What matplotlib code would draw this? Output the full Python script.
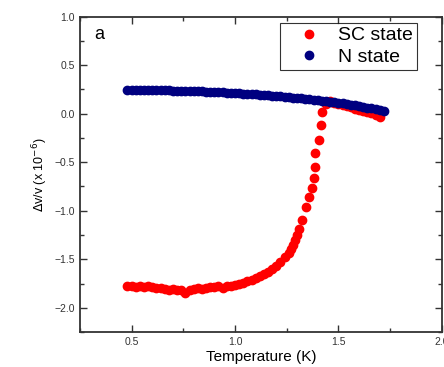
import numpy as np
import matplotlib
matplotlib.use('Agg')
import matplotlib.pyplot as plt
from matplotlib.ticker import MultipleLocator

plt.rcParams['font.family'] = ['Liberation Sans', 'DejaVu Sans']

# N state (normal state)
t_n = [0.48, 0.50, 0.52, 0.54, 0.56, 0.58, 0.60, 0.62, 0.64, 0.66, 0.68, 0.70,
       0.72, 0.74, 0.76, 0.78, 0.80, 0.82, 0.84, 0.86, 0.88, 0.90, 0.92, 0.94,
       0.96, 0.98, 1.00, 1.02, 1.04, 1.06, 1.08, 1.10, 1.12, 1.14, 1.16, 1.18,
       1.20, 1.22, 1.24, 1.26, 1.28, 1.30, 1.32, 1.34, 1.36, 1.38, 1.40, 1.42,
       1.44, 1.46, 1.48, 1.50, 1.52, 1.54, 1.56, 1.58, 1.60, 1.62, 1.64, 1.66,
       1.68, 1.70, 1.72]
dv_n = [0.245, 0.247, 0.246, 0.245, 0.246, 0.244, 0.243, 0.243, 0.241, 0.240,
        0.240, 0.238, 0.237, 0.236, 0.234, 0.233, 0.231, 0.229, 0.228, 0.226,
        0.224, 0.222, 0.220, 0.218, 0.216, 0.213, 0.211, 0.208, 0.206, 0.203,
        0.200, 0.197, 0.194, 0.191, 0.188, 0.185, 0.181, 0.178, 0.174, 0.170,
        0.166, 0.162, 0.158, 0.153, 0.149, 0.144, 0.139, 0.134, 0.128, 0.123,
        0.117, 0.111, 0.105, 0.099, 0.092, 0.085, 0.078, 0.071, 0.063, 0.055,
        0.046, 0.037, 0.028]

# SC state
t_sc = [0.48, 0.50, 0.52, 0.54, 0.56, 0.58, 0.60, 0.62, 0.64, 0.66, 0.68, 0.70,
        0.72, 0.74, 0.76, 0.78, 0.80, 0.82, 0.84, 0.86, 0.88, 0.90, 0.92, 0.94,
        0.96, 0.98, 1.00, 1.02, 1.04, 1.06, 1.08, 1.10, 1.12, 1.14, 1.16, 1.18,
        1.20, 1.22, 1.24, 1.26, 1.27, 1.28, 1.29, 1.30, 1.31, 1.322, 1.341,
        1.356, 1.370, 1.380, 1.389, 1.389, 1.407, 1.418, 1.423, 1.44, 1.46,
        1.48, 1.50, 1.52, 1.54, 1.56, 1.58, 1.60, 1.62, 1.64, 1.66, 1.68, 1.70]
dv_sc = [-1.77, -1.78, -1.79, -1.78, -1.79, -1.78, -1.79, -1.80, -1.80, -1.81,
         -1.82, -1.81, -1.82, -1.82, -1.85, -1.82, -1.81, -1.80, -1.81, -1.80,
         -1.79, -1.79, -1.78, -1.80, -1.78, -1.77, -1.76, -1.75, -1.74, -1.72,
         -1.71, -1.69, -1.67, -1.65, -1.63, -1.60, -1.57, -1.53, -1.48, -1.43,
         -1.39, -1.35, -1.30, -1.25, -1.19, -1.10, -0.96, -0.86, -0.77, -0.66,
         -0.55, -0.41, -0.275, -0.12, 0.02, 0.10, 0.13, 0.11, 0.10, 0.09, 0.08,
         0.07, 0.05, 0.04, 0.03, 0.02, 0.01, -0.01, -0.03]

fig = plt.figure(figsize=(4.44, 3.67), dpi=100)
ax = fig.add_axes([0.18, 0.095, 0.815, 0.86])

ax.plot(t_sc, dv_sc, 'o', color='#ff0000', ms=6, mec='#ff0000', label='SC state')
ax.plot(t_n, dv_n, 'o', color='#000080', ms=6, mec='#000080', label='N state')

ax.set_xlim(0.25, 2.0)
ax.set_ylim(-2.25, 1.0)
ax.xaxis.set_major_locator(MultipleLocator(0.5))
ax.xaxis.set_minor_locator(MultipleLocator(0.25))
ax.yaxis.set_major_locator(MultipleLocator(0.5))
ax.yaxis.set_minor_locator(MultipleLocator(0.25))
ax.tick_params(which='both', direction='in', top=True, right=True,
               labelsize=7.5, labelcolor='#333333', color='#333333', width=1)
ax.tick_params(which='major', length=5)
ax.tick_params(which='minor', length=3)
for s in ax.spines.values():
    s.set_linewidth(1.3)
    s.set_color('#333333')

ax.set_xlabel('Temperature (K)', fontsize=11, labelpad=2)
ax.set_ylabel(r'$\Delta$v/v (x 10$^{-6}$)', fontsize=9, labelpad=3)
ax.text(0.04, 0.97, 'a', transform=ax.transAxes, fontsize=13, va='top')

leg = ax.legend(loc='upper right', bbox_to_anchor=(0.932, 0.98), fontsize=14,
                frameon=True, fancybox=False, edgecolor='black',
                borderaxespad=0, handletextpad=0.2, borderpad=0.2,
                labelspacing=0.2, handlelength=2.6, markerscale=1.0)
leg.get_frame().set_linewidth(0.8)

fig.savefig('out.png', dpi=100)
